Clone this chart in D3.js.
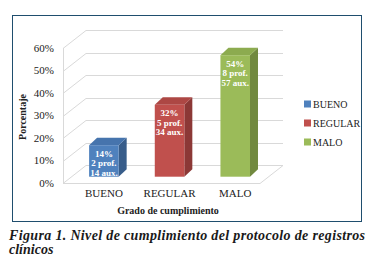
<!DOCTYPE html>
<html>
<head>
<meta charset="utf-8">
<script src="https://cdn.jsdelivr.net/npm/d3@7"></script>
<style>
  body { margin: 0; background: #fff; }
  svg { display: block; }
  text { font-family: "Liberation Serif", "Times New Roman", Times, serif; }
</style>
</head>
<body>
<svg id="chart" width="374" height="264"></svg>
<script>
// Data
const categories = ["BUENO", "REGULAR", "MALO"];
const percentValues = [0.14, 0.32, 0.54];
const profCounts = [2, 5, 8];
const auxCounts = [14, 34, 57];
const yTicks = [0, 0.1, 0.2, 0.3, 0.4, 0.5, 0.6];

const frontColors = ["#4f81bd", "#c0504d", "#9bbb59"];
const sideColors = ["#385d8a", "#8c3836", "#71893f"];
const topColors = ["#4674ad", "#ad4744", "#8cab4f"];

const svg = d3.select("#chart");

// Outer frame
svg.append("rect")
    .attr("x", 12.5).attr("y", 15.5)
    .attr("width", 349).attr("height", 206)
    .attr("fill", "#fff")
    .attr("stroke", "#1f4e6e")
    .attr("stroke-width", 1);

// 3D geometry: front plane + depth offset
const depthX = 23, depthY = -18;
const left = 63, right = 260;

const y = d3.scaleLinear().domain([0, 0.6]).range([183, 48]);
const x = d3.scaleBand().domain(categories).range([left, right])
    .paddingInner(0.55).paddingOuter(0.275);

const grid = svg.append("g").attr("stroke", "#d9d9d9").attr("stroke-width", 1).attr("fill", "none");

// Back wall gridlines + left wall diagonals
yTicks.forEach(t => {
    const yy = Math.round(y(t)) + 0.5;
    grid.append("line")
        .attr("x1", left + depthX).attr("x2", right + depthX)
        .attr("y1", yy + depthY).attr("y2", yy + depthY);
    grid.append("line")
        .attr("x1", left).attr("x2", left + depthX)
        .attr("y1", yy).attr("y2", yy + depthY);
});
// left wall front edge
grid.append("line")
    .attr("x1", left + 0.5).attr("x2", left + 0.5)
    .attr("y1", y(0.6)).attr("y2", y(0));
// floor front edge + right edge
grid.append("line")
    .attr("x1", left).attr("x2", right)
    .attr("y1", Math.round(y(0)) + 0.5).attr("y2", Math.round(y(0)) + 0.5);
grid.append("line")
    .attr("x1", right).attr("x2", right + depthX)
    .attr("y1", Math.round(y(0)) + 0.5).attr("y2", Math.round(y(0)) + 0.5 + depthY);

// Tick labels
svg.append("g").selectAll("text")
    .data(yTicks)
    .join("text")
    .attr("x", 54)
    .attr("y", d => y(d))
    .attr("dy", "0.35em")
    .attr("text-anchor", "end")
    .style("font-size", "11px")
    .attr("fill", "#222")
    .text(d => d3.format(".0%")(d));

// Bars (placed part way into the depth)
const bz0 = 0.35;
const barDX = 8, barDY = -7.5;
const bars = svg.append("g");
categories.forEach((c, i) => {
    const v = percentValues[i];
    const x0 = x(c) + depthX * bz0;
    const w = x.bandwidth();
    const yb = y(0) + depthY * bz0;
    const yt = y(v) + depthY * bz0;

    // side
    bars.append("path")
        .attr("d", `M${x0 + w},${yt} L${x0 + w + barDX},${yt + barDY} L${x0 + w + barDX},${yb + barDY} L${x0 + w},${yb} Z`)
        .attr("fill", sideColors[i]);
    // top
    bars.append("path")
        .attr("d", `M${x0},${yt} L${x0 + barDX},${yt + barDY} L${x0 + w + barDX},${yt + barDY} L${x0 + w},${yt} Z`)
        .attr("fill", topColors[i]);
    // front
    bars.append("rect")
        .attr("x", x0).attr("y", yt)
        .attr("width", w).attr("height", yb - yt)
        .attr("fill", frontColors[i]);

    // labels inside
    const lines = [d3.format(".0%")(v), profCounts[i] + " prof.", auxCounts[i] + " aux."];
    bars.append("g").selectAll("text")
        .data(lines)
        .join("text")
        .attr("x", x0 + w / 2)
        .attr("y", (d, k) => yt + 11.5 + k * 9.6)
        .attr("text-anchor", "middle")
        .style("font-size", "9px")
        .style("font-weight", "bold")
        .attr("fill", "#fff")
        .text(d => d);

    // category label
    svg.append("text")
        .attr("x", x0 + w / 2)
        .attr("y", 197)
        .attr("text-anchor", "middle")
        .style("font-size", "11px")
        .attr("fill", "#222")
        .text(c);
});

// Axis titles
svg.append("text")
    .attr("x", 168).attr("y", 214)
    .attr("text-anchor", "middle")
    .style("font-size", "10px")
    .style("font-weight", "bold")
    .attr("fill", "#222")
    .text("Grado de cumplimiento");

svg.append("text")
    .attr("transform", "translate(26,117) rotate(-90)")
    .attr("text-anchor", "middle")
    .style("font-size", "10px")
    .style("font-weight", "bold")
    .attr("fill", "#222")
    .text("Porcentaje");

// Legend
const legend = svg.append("g");
categories.forEach((c, i) => {
    const ly = 104 + i * 19;
    legend.append("rect")
        .attr("x", 304).attr("y", ly - 3.5)
        .attr("width", 7).attr("height", 7)
        .attr("fill", frontColors[i]);
    legend.append("text")
        .attr("x", 313).attr("y", ly)
        .attr("dy", "0.35em")
        .style("font-size", "10px")
        .attr("fill", "#222")
        .text(c);
});

// Caption
const caption = svg.append("g")
    .style("font-size", "14px")
    .style("font-style", "italic")
    .style("font-weight", "bold")
    .attr("fill", "#1a1a1a");
caption.append("text")
    .attr("x", 9).attr("y", 240)
    .attr("textLength", 356)
    .attr("lengthAdjust", "spacing")
    .text("Figura 1. Nivel de cumplimiento del protocolo de registros");
caption.append("text")
    .attr("x", 9).attr("y", 254)
    .text("clínicos");
</script>
</body>
</html>
